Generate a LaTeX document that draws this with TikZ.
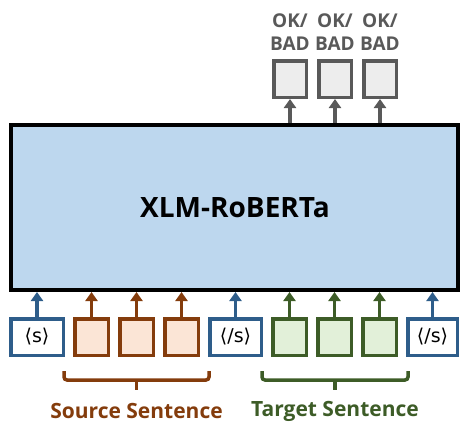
\documentclass[tikz,border=0pt]{standalone}
\usepackage{fontspec}
\setmainfont{Open Sans}
\newfontfamily\symfont{DejaVu Sans}
\usetikzlibrary{arrows.meta}
\definecolor{mainfill}{HTML}{BDD7EE}
\definecolor{tokblue}{HTML}{2E5D8A}
\definecolor{srcbrown}{HTML}{843C0C}
\definecolor{srcfill}{HTML}{FBE5D6}
\definecolor{tgtgreen}{HTML}{3D5C27}
\definecolor{tgtfill}{HTML}{E2F0D9}
\definecolor{outgray}{HTML}{595959}
\definecolor{outfill}{HTML}{EDEDED}
\begin{document}
\begin{tikzpicture}[x=1pt,y=-1pt,
  tok/.style={draw=tokblue,line width=3.5pt,fill=white,minimum height=36.5pt,inner sep=0pt,font=\symfont\fontsize{19}{21}\selectfont},
  srcbox/.style={draw=srcbrown,fill=srcfill,line width=3.5pt,minimum width=33.5pt,minimum height=36.5pt,inner sep=0pt},
  tgtbox/.style={draw=tgtgreen,fill=tgtfill,line width=3.5pt,minimum width=33.5pt,minimum height=36.5pt,inner sep=0pt},
  outbox/.style={draw=outgray,fill=outfill,line width=3.5pt,minimum width=32.5pt,minimum height=36.5pt,inner sep=0pt},
  arr/.style={line width=3.5pt,-{Triangle[width=12pt,length=9pt]}},
  brace/.style={line width=3.5pt,rounded corners=3pt},
  lab/.style={font=\bfseries\fontsize{21}{24}\selectfont,inner sep=1pt},
  outlab/.style={text=outgray,align=center,font=\bfseries\fontsize{19}{23}\selectfont}
]
\useasboundingbox (0,0) rectangle (460,423);
\node[draw=black,fill=mainfill,line width=4pt,minimum width=447pt,minimum height=165pt,inner sep=0pt] (main) at (234,207.5) {};
\node[font=\bfseries\fontsize{28}{32}\selectfont] (title) at (235,208) {XLM-RoBERTa};

\node[tok,minimum width=52.5pt] (s1) at (37,337) {⟨s⟩};
\node[srcbox] (a1) at (91.5,337) {};
\node[srcbox] (a2) at (136.5,337) {};
\node[srcbox] (a3) at (181.5,337) {};
\node[tok,minimum width=51.5pt] (s2) at (235.5,337) {⟨/s⟩};
\node[tgtbox] (b1) at (289.5,337) {};
\node[tgtbox] (b2) at (334.5,337) {};
\node[tgtbox] (b3) at (379.5,337) {};
\node[tok,minimum width=49.5pt] (s3) at (432.5,337) {⟨/s⟩};

\foreach \n/\c in {s1/tokblue,a1/srcbrown,a2/srcbrown,a3/srcbrown,s2/tokblue,b1/tgtgreen,b2/tgtgreen,b3/tgtgreen,s3/tokblue}{
  \draw[arr,draw=\c,fill=\c] (\n.north) -- (\n.north |- main.south);
}

\node[outbox] (o1) at (290,79) {};
\node[outbox] (o2) at (335,79) {};
\node[outbox] (o3) at (380,79) {};
\foreach \n in {o1,o2,o3}{
  \draw[arr,draw=outgray,fill=outgray] (\n.south |- main.north) -- (\n.south);
  \node[outlab] at ([yshift=47pt]\n.center) {OK/\\BAD};
}

\coordinate (sa) at (64,371);
\coordinate (sb) at (209,371);
\coordinate (sc) at (136.5,380);
\coordinate (sd) at (136.5,390);
\draw[brace,draw=srcbrown] (sa) -- (sa |- sc) -- (sb |- sc) -- (sb);
\draw[line width=3.5pt,draw=srcbrown] (sc) -- (sd);
\node[lab,text=srcbrown] (srclab) at (136.5,411) {Source Sentence};

\coordinate (ta) at (262,371);
\coordinate (tb) at (408,371);
\coordinate (tc) at (335,380);
\coordinate (td) at (335,390);
\draw[brace,draw=tgtgreen] (ta) -- (ta |- tc) -- (tb |- tc) -- (tb);
\draw[line width=3.5pt,draw=tgtgreen] (tc) -- (td);
\node[lab,text=tgtgreen] (tgtlab) at (335,411) {Target Sentence};
\end{tikzpicture}
\end{document}
